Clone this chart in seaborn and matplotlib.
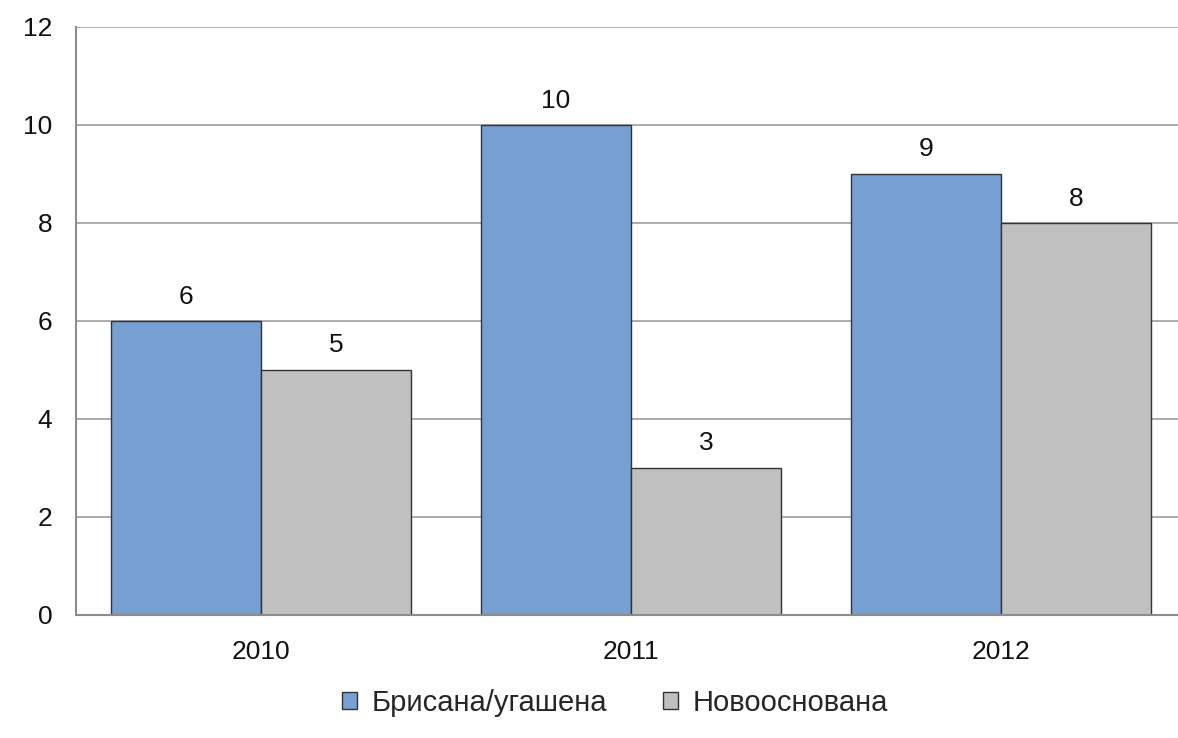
import matplotlib
matplotlib.use("Agg")
import matplotlib.pyplot as plt
import seaborn as sns
import pandas as pd
from matplotlib.patches import Patch

years = ["2010", "2011", "2012"]
series_names = ["Брисана/угашена", "Новооснована"]
deleted = [6, 10, 9]
new = [5, 3, 8]
yticks = [0, 2, 4, 6, 8, 10, 12]

df = pd.DataFrame({
    "year": years * 2,
    "value": deleted + new,
    "series": [series_names[0]] * 3 + [series_names[1]] * 3,
})

sns.set_theme(style="white")
plt.rcParams["font.family"] = ["Liberation Sans", "DejaVu Sans"]

colors = ["#779FD2", "#C0C0C0"]
fig = plt.figure(figsize=(11.78, 7.38), dpi=100)
ax = fig.add_axes([76 / 1178, 1 - 615 / 738, 1110 / 1178, (615 - 27) / 738])

sns.barplot(data=df, x="year", y="value", hue="series", palette=colors,
            width=0.81, edgecolor="#333333", linewidth=1.0, ax=ax,
            legend=False, saturation=1)

fs = 19
for cont in ax.containers:
    ax.bar_label(cont, fmt="%d", padding=9, fontsize=fs, color="#111111")

ax.set_ylim(0, 12)
ax.set_yticks(yticks)
ax.set_xlim(-0.5, 2.5)
ax.yaxis.grid(True, color="#A6A6A6", linewidth=1.3)
ax.set_axisbelow(True)
ax.set_xlabel("")
ax.set_ylabel("")
for s in ["top", "right"]:
    ax.spines[s].set_visible(False)
for s in ["left", "bottom"]:
    ax.spines[s].set_color("#8C8C8C")
    ax.spines[s].set_linewidth(1.5)
ax.tick_params(axis="both", length=0, labelsize=fs, colors="#111111")
ax.tick_params(axis="y", pad=17)
ax.tick_params(axis="x", pad=18)

handles = [Patch(facecolor=c, edgecolor="#333333", linewidth=1.0) for c in colors]
fig.legend(handles, series_names, loc="center", bbox_to_anchor=(615 / 1178, 1 - 703 / 738),
           ncol=2, frameon=False, fontsize=21, handlelength=0.52, handleheight=0.52,
           handletextpad=0.5, columnspacing=1.9)

fig.savefig("out.png", dpi=100)
